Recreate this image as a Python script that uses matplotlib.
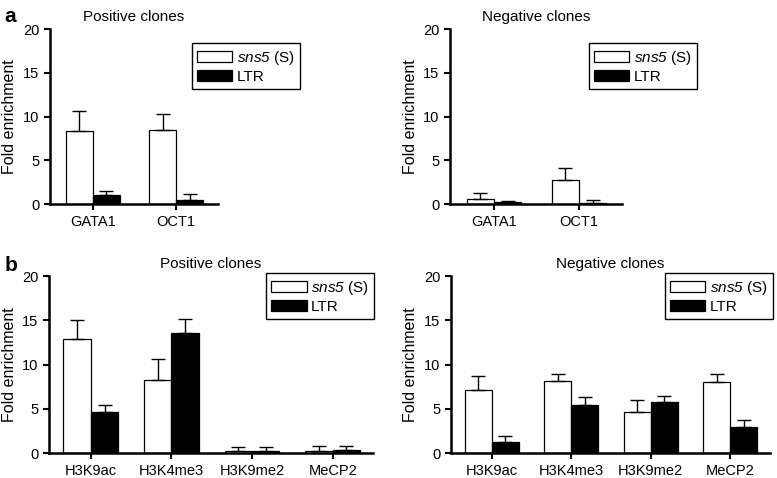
import numpy as np
import matplotlib
matplotlib.use("Agg")
import matplotlib.pyplot as plt

plt.rcParams['font.family'] = ['Liberation Sans', 'DejaVu Sans']
# math part only used for the italic gene name, digit included
plt.rcParams['mathtext.fontset'] = 'custom'
plt.rcParams['mathtext.rm'] = 'Liberation Sans:italic'
plt.rcParams['mathtext.it'] = 'Liberation Sans:italic'

# panel a: transcription factors
tf_names = ["GATA1", "OCT1"]
pos_tf_s = [8.4, 8.5]
pos_tf_s_err = [2.3, 1.8]
pos_tf_ltr = [1.0, 0.5]
pos_tf_ltr_err = [0.55, 0.6]
neg_tf_s = [0.6, 2.8]
neg_tf_s_err = [0.7, 1.3]
neg_tf_ltr = [0.25, 0.15]
neg_tf_ltr_err = [0.1, 0.3]

# panel b: histone marks
hist_names = ["H3K9ac", "H3K4me3", "H3K9me2", "MeCP2"]
pos_h_s = [12.9, 8.3, 0.25, 0.25]
pos_h_s_err = [2.1, 2.3, 0.45, 0.55]
pos_h_ltr = [4.7, 13.6, 0.2, 0.3]
pos_h_ltr_err = [0.8, 1.6, 0.5, 0.5]
neg_h_s = [7.1, 8.2, 4.7, 8.0]
neg_h_s_err = [1.6, 0.7, 1.3, 0.9]
neg_h_ltr = [1.3, 5.4, 5.8, 2.9]
neg_h_ltr_err = [0.6, 0.9, 0.7, 0.8]

fig = plt.figure(figsize=(7.77, 4.78), dpi=100)


def panel(rect, names, s, s_err, ltr, ltr_err, title, width, leg_xy):
    ax = fig.add_axes(rect)
    x = np.arange(len(names))
    ekw = dict(lw=1.0, capthick=1.0)
    ax.bar(x - width / 2, s, width, color="white", edgecolor="black", lw=0.9,
           yerr=[np.zeros(len(s)), s_err], capsize=5, error_kw=ekw,
           label="$\\mathrm{sns5}$ (S)", zorder=2)
    ax.bar(x + width / 2, ltr, width, color="black", edgecolor="black", lw=0.9,
           yerr=[np.zeros(len(ltr)), ltr_err], capsize=5, error_kw=ekw,
           label="LTR", zorder=2)
    ax.set_xlim(-0.52, len(names) - 0.5)
    ax.set_ylim(0, 20)
    ax.set_yticks([0, 5, 10, 15, 20])
    ax.set_xticks(x)
    ax.set_xticklabels(names)
    ax.set_ylabel("Fold enrichment", fontsize=11.5)
    ax.set_title(title, fontsize=11, pad=6)
    for sp in ["top", "right"]:
        ax.spines[sp].set_visible(False)
    for sp in ["left", "bottom"]:
        ax.spines[sp].set_linewidth(1.8)
    ax.tick_params(axis="both", labelsize=10.5, width=1.5, length=4)
    leg = ax.legend(loc="upper left", bbox_to_anchor=leg_xy, borderaxespad=0,
                    fancybox=False, edgecolor="black", framealpha=1,
                    fontsize=11, handlelength=2.3, handleheight=0.75,
                    handletextpad=0.3, labelspacing=0.2, borderpad=0.35)
    leg.get_frame().set_linewidth(1.0)
    leg.set_zorder(5)
    return ax


panel([0.064, 0.573, 0.216, 0.366], tf_names, pos_tf_s, pos_tf_s_err,
      pos_tf_ltr, pos_tf_ltr_err, "Positive clones", 0.325, (0.845, 0.92))
panel([0.579, 0.573, 0.221, 0.366], tf_names, neg_tf_s, neg_tf_s_err,
      neg_tf_ltr, neg_tf_ltr_err, "Negative clones", 0.32, (0.808, 0.92))
panel([0.063, 0.052, 0.417, 0.370], hist_names, pos_h_s, pos_h_s_err,
      pos_h_ltr, pos_h_ltr_err, "Positive clones", 0.34, (0.67, 1.017))
panel([0.580, 0.052, 0.4106, 0.370], hist_names, neg_h_s, neg_h_s_err,
      neg_h_ltr, neg_h_ltr_err, "Negative clones", 0.34, (0.671, 1.017))

fig.text(0.006, 0.965, "a", fontsize=15, fontweight="bold", va="center")
fig.text(0.006, 0.445, "b", fontsize=15, fontweight="bold", va="center")

fig.savefig("out.png", dpi=100)
